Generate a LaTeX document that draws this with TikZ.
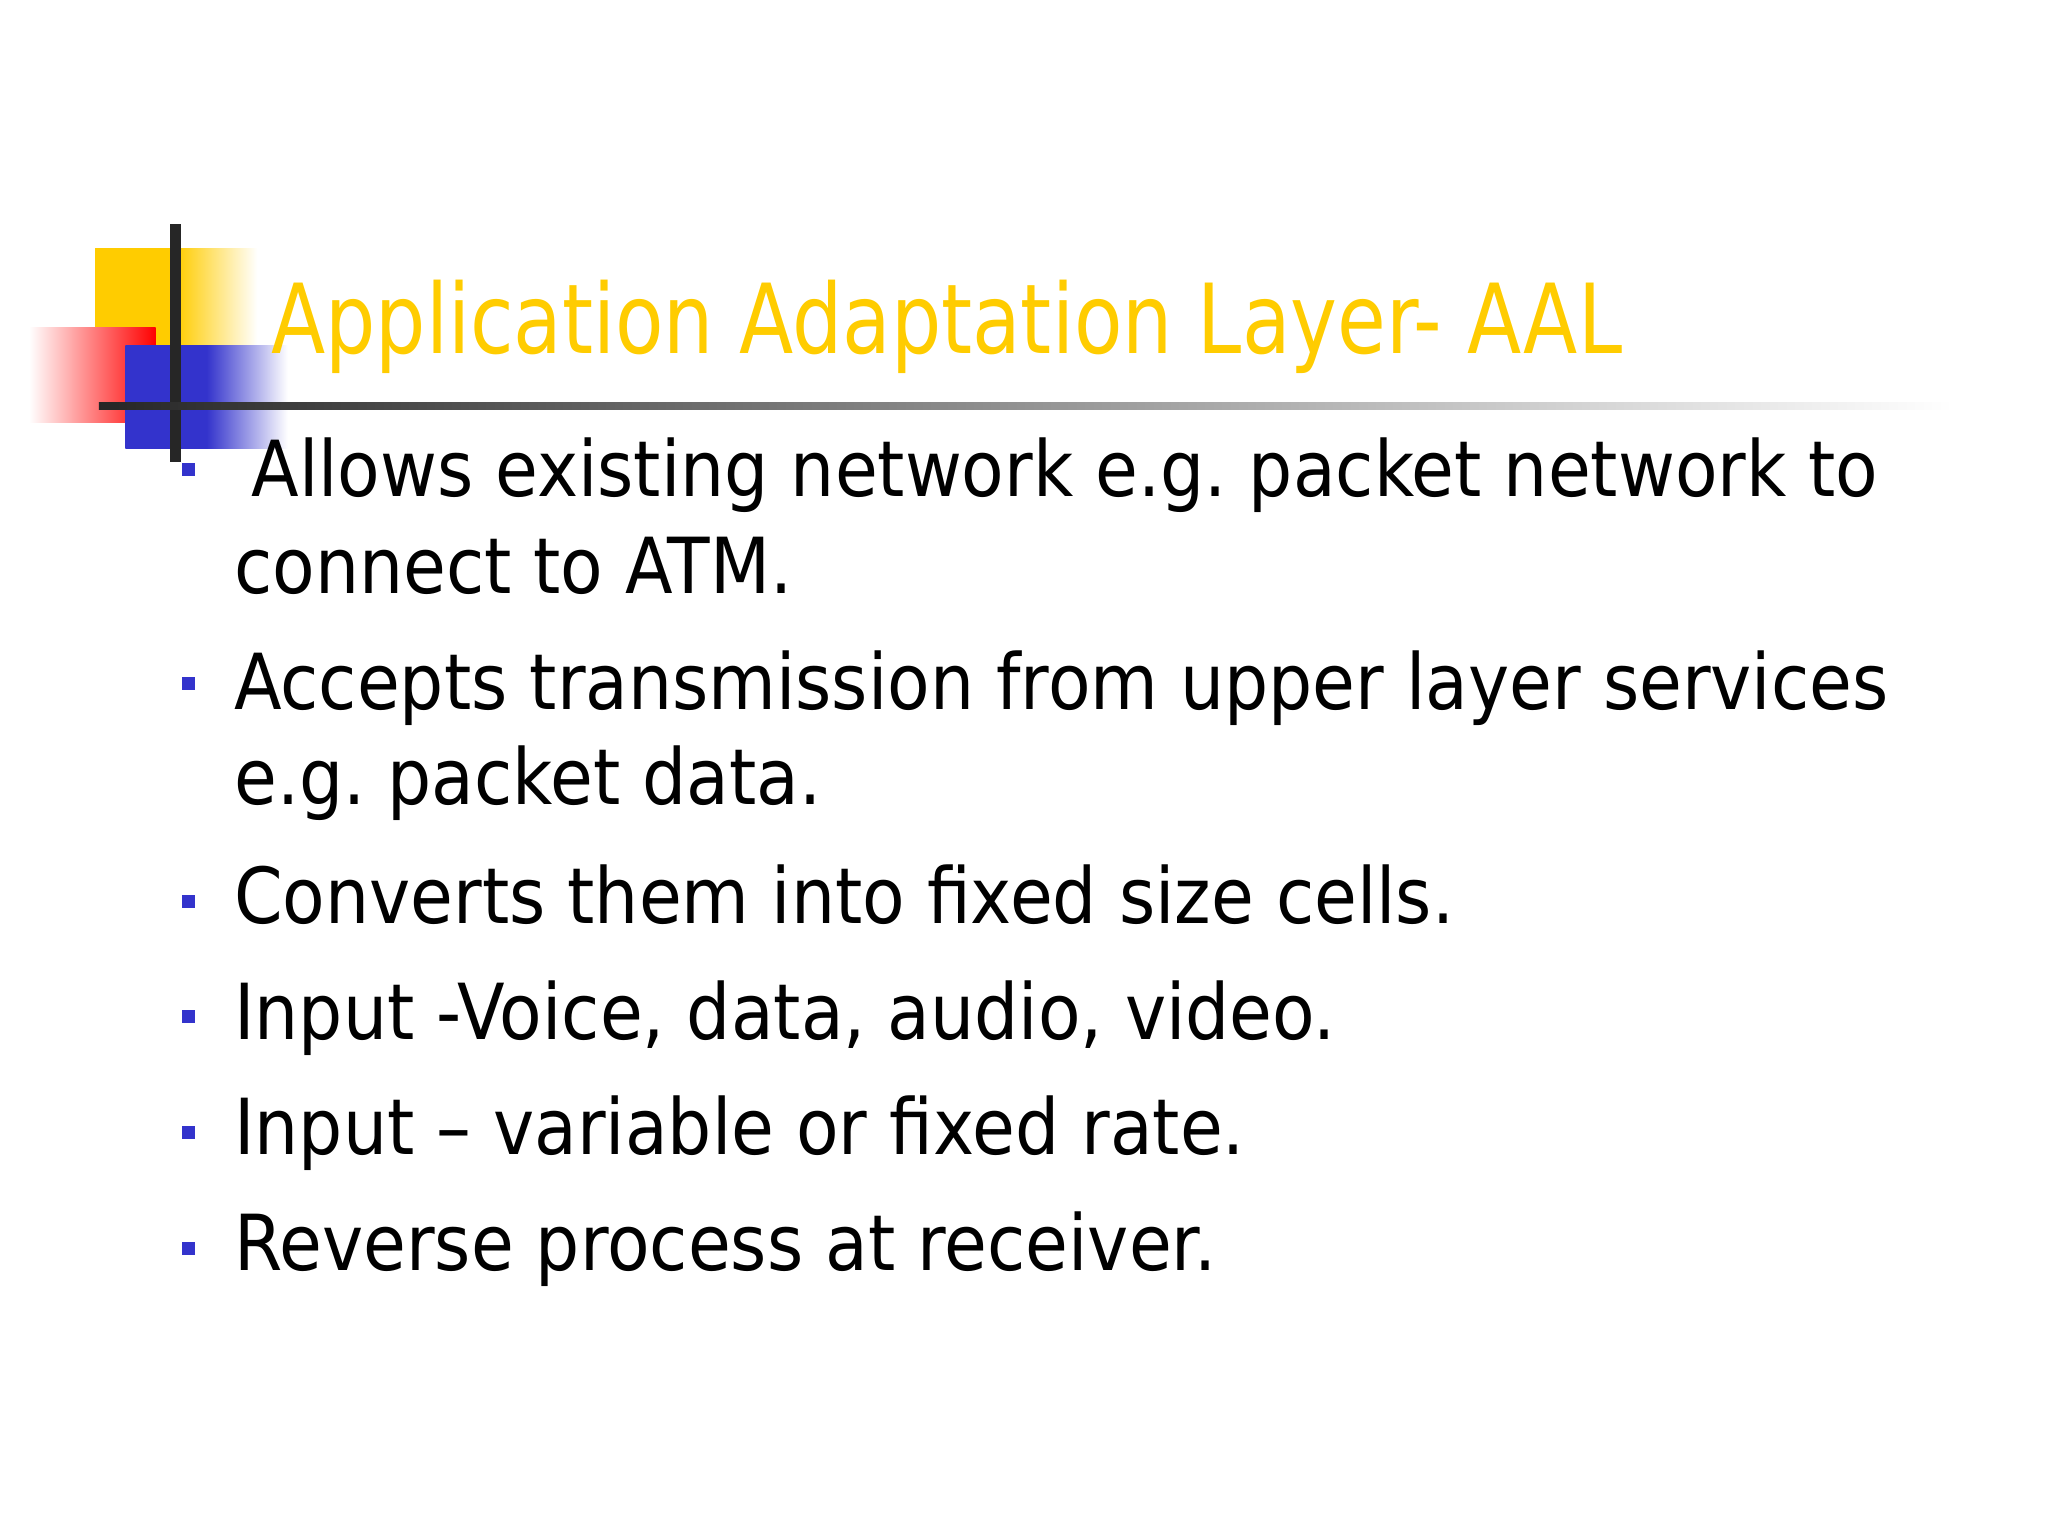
\documentclass[tikz,border=0pt]{standalone}
\usepackage{fontspec}
\setmainfont{DejaVu Sans}[FakeStretch=0.82]
\newfontfamily\bodyfont{DejaVu Sans}[FakeStretch=0.9]
\frenchspacing
\begin{document}
\begin{tikzpicture}[x=0.013196cm,y=-0.013196cm,
  txt/.style={anchor=base west,inner sep=0pt,font=\bodyfont\fontsize{22}{26}\selectfont},
  bul/.style={fill=bluish,draw=none}]
\useasboundingbox (0,0) rectangle (1552,1164);
\definecolor{gold}{HTML}{FFCC00}
\definecolor{bluish}{HTML}{3333CC}
\shade[left color=gold,right color=white,middle color=gold] (72,188) rectangle (195,300);
\shade[left color=white,right color=red] (22,248) rectangle (118,320);
\shade[left color=bluish,right color=white,middle color=bluish] (95,262) rectangle (218,340);
\draw[line width=3pt,black!85] (133,170) -- (133,350);
\shade[left color=black!85,right color=white] (75,305) rectangle (1480,310);
\node[anchor=base west,inner sep=0pt,text=gold,font=\fontsize{27.5}{32}\selectfont] (title) at (205,268) {Application Adaptation Layer- AAL};
\foreach \y/\n in {356/b1,518/b2,683/b3,770/b4,858/b5,946/b6}{\fill[bul] (138,\y-5) rectangle (148,\y+5);}
\node[txt] (l1) at (190,376) {Allows existing network e.g. packet network to};
\node[txt] (l1b) at (177,450) {connect to ATM.};
\node[txt] (l2) at (177,538) {Accepts transmission from upper layer services};
\node[txt] (l2b) at (177,610) {e.g. packet data.};
\node[txt] (l3) at (177,700) {Converts them into fixed size cells.};
\node[txt] (l4) at (177,788) {Input -Voice, data, audio, video.};
\node[txt] (l5) at (177,875) {Input – variable or fixed rate.};
\node[txt] (l6) at (177,963) {Reverse process at receiver.};
\end{tikzpicture}
\end{document}
